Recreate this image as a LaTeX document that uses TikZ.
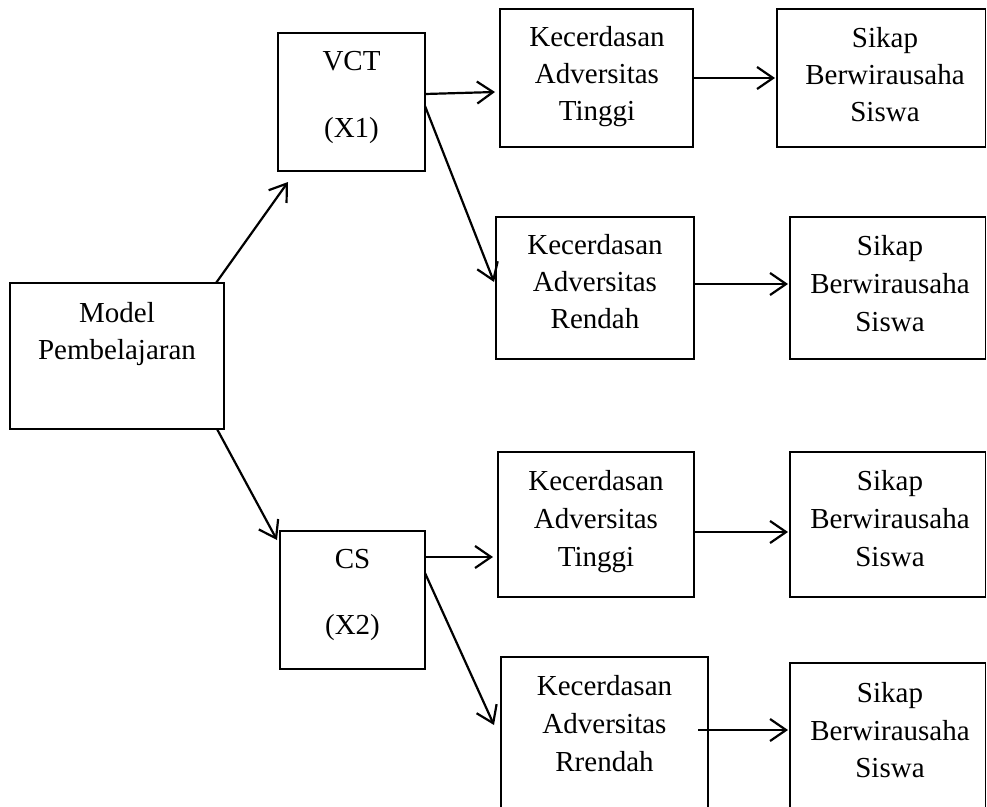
\documentclass[tikz,border=0pt]{standalone}
\usepackage{fontspec}
\setmainfont{Liberation Serif}
\usetikzlibrary{arrows.meta,calc}
\begin{document}
\begin{tikzpicture}[x=1pt,y=-1pt,
 box/.style={draw, line width=1.5pt, anchor=north west, inner sep=0pt, outer sep=0pt},
 txt/.style={anchor=base, inner sep=0pt, font=\fontsize{29}{37}\selectfont},
 conn/.style={line width=2.2pt, -{Straight Barb[length=16pt,width=22pt,line width=2.2pt]}}]
\useasboundingbox (0,0) rectangle (987,806);
\fill[white] (0,0) rectangle (987,806);
\begin{scope}
\clip (0,0) rectangle (987,806);
% boxes
\node[box, minimum width=214pt, minimum height=146pt] (model) at (10,283) {};
\node[box, minimum width=147pt, minimum height=138pt] (vct) at (278,33) {};
\node[box, minimum width=145pt, minimum height=138pt] (cs) at (280,531) {};
\node[box, minimum width=193pt, minimum height=138pt] (kat1) at (500,9) {};
\node[box, minimum width=208.5pt, minimum height=138pt] (sr0) at (777,9) {};
\node[box, minimum width=198pt, minimum height=142pt] (kar1) at (496,217) {};
\node[box, minimum width=195.5pt, minimum height=142pt] (sr1) at (790,217) {};
\node[box, minimum width=196pt, minimum height=145pt] (kat2) at (498,452) {};
\node[box, minimum width=195.5pt, minimum height=145pt] (sr2) at (790,452) {};
\node[box, minimum width=207pt, minimum height=170pt] (kar2) at (501,657) {};
\node[box, minimum width=195.5pt, minimum height=170pt] (sr3) at (790,663) {};
\end{scope}
% texts
\node[txt] (tm1) at (117,322) {Model};
\node[txt] (tm2) at (117,359) {Pembelajaran};
\node[txt] (tv1) at (351.5,70) {VCT};
\node[txt] (tv2) at (351.5,137) {(X1)};
\node[txt] (tc1) at (352.5,568) {CS};
\node[txt] (tc2) at (352.5,634) {(X2)};
\node[txt] (ta1) at (597,46) {Kecerdasan};
\node[txt] (ta2) at (597,83) {Adversitas};
\node[txt] (ta3) at (597,120) {Tinggi};
\node[txt] (ts1) at (885,47) {Sikap};
\node[txt] (ts2) at (885,84) {Berwirausaha};
\node[txt] (ts3) at (885,121) {Siswa};
\node[txt] (tb1) at (595,254) {Kecerdasan};
\node[txt] (tb2) at (595,291) {Adversitas};
\node[txt] (tb3) at (595,328) {Rendah};
\node[txt] (tu1) at (890,255) {Sikap};
\node[txt] (tu2) at (890,293) {Berwirausaha};
\node[txt] (tu3) at (890,331) {Siswa};
\node[txt] (td1) at (596,490) {Kecerdasan};
\node[txt] (td2) at (596,528) {Adversitas};
\node[txt] (td3) at (596,566) {Tinggi};
\node[txt] (tw1) at (890,490) {Sikap};
\node[txt] (tw2) at (890,528) {Berwirausaha};
\node[txt] (tw3) at (890,566) {Siswa};
\node[txt] (te1) at (604.5,695) {Kecerdasan};
\node[txt] (te2) at (604.5,733) {Adversitas};
\node[txt] (te3) at (604.5,771) {Rrendah};
\node[txt] (tz1) at (890,702) {Sikap};
\node[txt] (tz2) at (890,740) {Berwirausaha};
\node[txt] (tz3) at (890,777) {Siswa};
% connectors
\draw[conn] ($(model.north east)+(-8,0)$) -- ($(vct.south west)+(10,11)$);
\draw[conn] ($(model.south east)+(-7,0)$) -- ($(cs.north west)+(-3,9)$);
\draw[conn] ($(vct.north east)+(0,61)$) -- ($(kat1.north west)+(-5,83)$);
\draw[conn] ($(vct.north east)+(0,73)$) -- ($(kar1.north west)+(-2,65)$);
\draw[conn] (kat1.east) -- ($(sr0.west)+(-2,0)$);
\draw[conn] ($(kar1.east)+(0,-4)$) -- ($(sr1.west)+(-2,-4)$);
\draw[conn] ($(cs.north east)+(0,26)$) -- ($(kat2.north west)+(-5,105)$);
\draw[conn] ($(cs.north east)+(0,42)$) -- ($(kar2.north west)+(-7,68)$);
\draw[conn] ($(kat2.east)+(0,7.5)$) -- ($(sr2.west)+(-2,7.5)$);
\draw[conn] ($(kar2.north east)+(-10,73)$) -- ($(sr3.north west)+(-2,67)$);
\end{tikzpicture}
\end{document}
